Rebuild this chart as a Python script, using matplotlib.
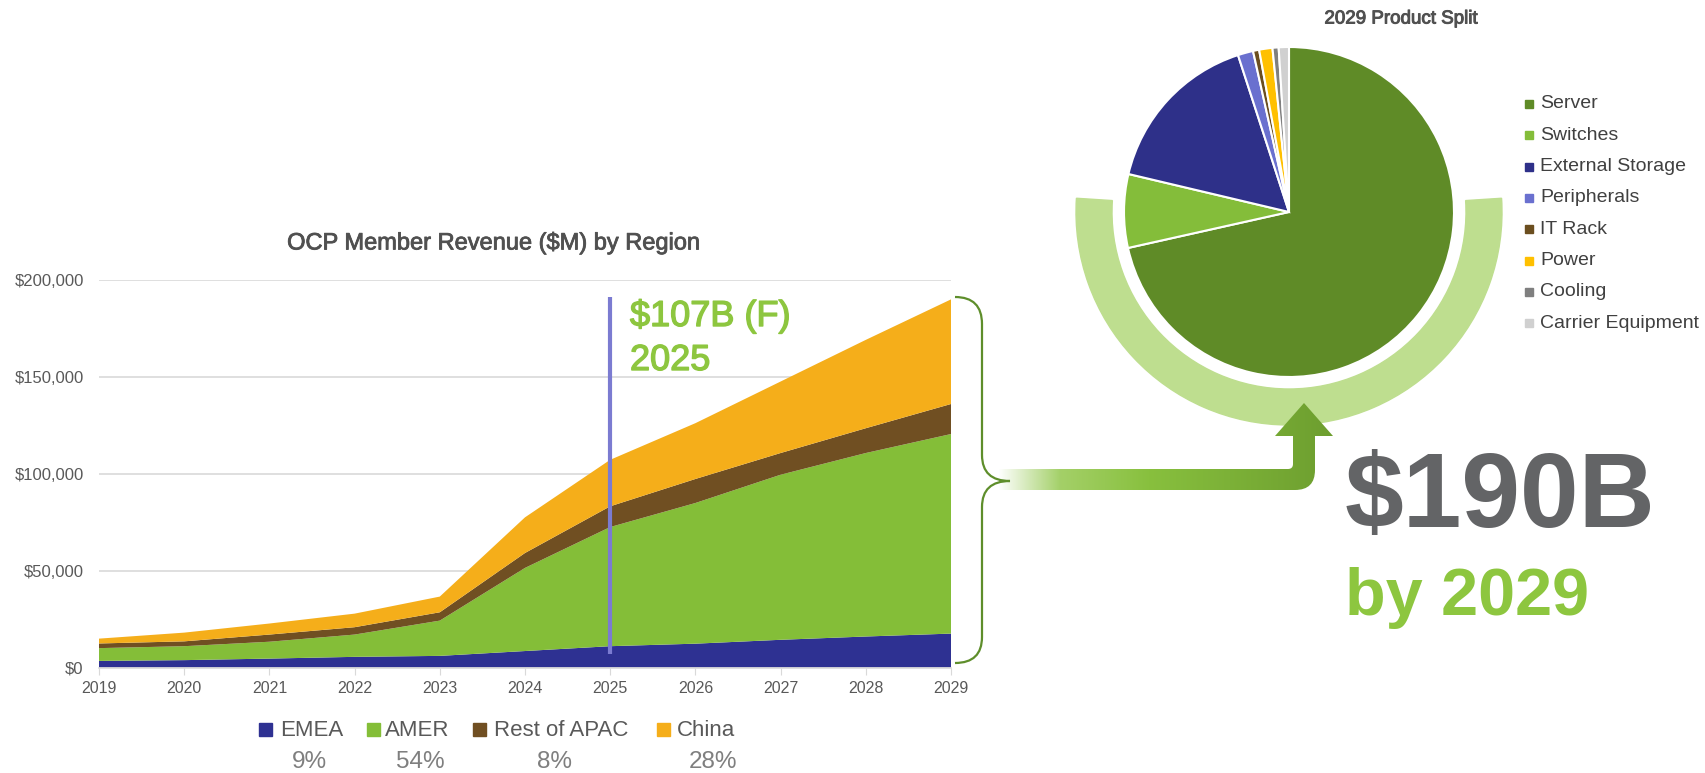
import numpy as np
import matplotlib
matplotlib.use("Agg")
import matplotlib.pyplot as plt
import matplotlib.patheffects as pe
from matplotlib.path import Path
from matplotlib.patches import PathPatch, Wedge, Rectangle
from matplotlib.colors import LinearSegmentedColormap
from matplotlib.ticker import FuncFormatter

plt.rcParams["font.family"] = ["Liberation Sans", "DejaVu Sans"]

W, H = 1706, 773

# area chart data ($M)
years = list(range(2019, 2030))
emea = [3400, 3800, 4600, 5500, 6000, 8500, 11000, 12300, 14300, 16000, 17500]
amer = [6600, 7200, 8700, 11500, 18200, 42900, 61500, 72600, 85200, 94700, 103000]
apac = [2400, 2500, 3700, 3800, 4300, 7700, 10700, 12400, 11200, 12800, 15500]
china = [2500, 4500, 5700, 7000, 8100, 18400, 24000, 28800, 36900, 45600, 54000]
regions = ["EMEA", "AMER", "Rest of APAC", "China"]
region_share = ["9%", "54%", "8%", "28%"]
region_colors = ["#2E3192", "#84BE38", "#704F22", "#F5AE1A"]

# pie data (% of 2029)
products = ["Server", "Switches", "External Storage", "Peripherals",
            "IT Rack", "Power", "Cooling", "Carrier Equipment"]
product_share = [71.5, 7.2, 16.3, 1.5, 0.6, 1.3, 0.6, 1.0]
product_colors = ["#5F8B27", "#84BD3A", "#2E3089", "#6A70CF",
                  "#6B4E1F", "#FFC000", "#7F7F7F", "#D0D0D0"]

fig = plt.figure(figsize=(W / 100, H / 100), dpi=100)


def px_box(left, top, right, bottom):
    # pixel box (y down) -> figure fraction rect
    return [left / W, (H - bottom) / H, (right - left) / W, (bottom - top) / H]


# ---- stacked area chart ----
ax = fig.add_axes(px_box(99, 280, 951, 667.5))
ax.stackplot(years, emea, amer, apac, china, colors=region_colors, lw=0)
ax.set_xlim(2019, 2029)
ax.set_ylim(0, 200000)
ax.set_xticks(years)
ax.set_yticks([0, 50000, 100000, 150000, 200000])
ax.yaxis.set_major_formatter(FuncFormatter(lambda v, p: "${:,.0f}".format(v)))
ax.grid(axis="y", color="#D9D9D9", lw=1.2)
ax.set_axisbelow(True)
for s in ["top", "right", "left"]:
    ax.spines[s].set_visible(False)
ax.spines["bottom"].set_color("#D9D9D9")
ax.spines["bottom"].set_linewidth(1.2)
ax.tick_params(axis="y", length=0, pad=11, labelsize=12, labelcolor="#595959")
ax.tick_params(axis="x", length=5, color="#D9D9D9", pad=5, labelsize=11.5,
               labelcolor="#595959")
title = ax.set_title("OCP Member Revenue ($M) by Region", fontsize=17,
                     color="#505050", x=0.4636, pad=22)
title.set_path_effects([pe.withStroke(linewidth=0.6, foreground="#505050")])
ax.plot([2025, 2025], [7000, 191000], color="#7B7BD1", lw=3,
        solid_capstyle="butt", zorder=4)

# ---- pie chart ----
cx, cy, R = 1289, 212, 165
pax = fig.add_axes(px_box(cx - 225, cy - 225, cx + 225, cy + 225))
pax.add_patch(Wedge((0, 0), 213, 176.3, 363.7, width=36, color="#BEDE8F"))
pax.pie(product_share, colors=product_colors, startangle=90, counterclock=False,
        radius=R, wedgeprops=dict(edgecolor="white", linewidth=1.5))
pax.set_xlim(-225, 225)
pax.set_ylim(-225, 225)
pax.set_aspect("equal")
pax.axis("off")

# ---- overlay in pixel coordinates ----
ov = fig.add_axes([0, 0, 1, 1], zorder=5)
ov.set_xlim(0, W)
ov.set_ylim(H, 0)
ov.axis("off")

# brace
bv = [(955, 297), (982, 297), (982, 324), (982, 455), (982, 481), (1010, 481),
      (982, 481), (982, 507), (982, 637), (982, 663), (955, 663)]
bc = [Path.MOVETO, Path.CURVE3, Path.CURVE3, Path.LINETO, Path.CURVE3, Path.CURVE3,
      Path.CURVE3, Path.CURVE3, Path.LINETO, Path.CURVE3, Path.CURVE3]
ov.add_patch(PathPatch(Path(bv, bc), fill=False, edgecolor="#5E8E2B", lw=1.6))

# gradient arrow
av = [(998, 469), (1288, 469), (1293, 469), (1293, 464), (1293, 436),
      (1275, 436), (1304, 403), (1333, 436), (1315, 436), (1315, 470),
      (1315, 490), (1295, 490), (998, 490), (998, 469)]
ac = [Path.MOVETO, Path.LINETO, Path.CURVE3, Path.CURVE3, Path.LINETO,
      Path.LINETO, Path.LINETO, Path.LINETO, Path.LINETO, Path.LINETO,
      Path.CURVE3, Path.CURVE3, Path.LINETO, Path.CLOSEPOLY]
arrow_patch = PathPatch(Path(av, ac), facecolor="none", edgecolor="none")
ov.add_patch(arrow_patch)
cmap = LinearSegmentedColormap.from_list(
    "fade", [(0.0, (0.64, 0.82, 0.41, 0.0)), (0.185, "#A4D068"),
             (0.45, "#88C03E"), (1.0, "#6D9E2F")])
grad = np.linspace(0, 1, 256).reshape(1, -1)
im = ov.imshow(grad, cmap=cmap, extent=(998, 1333, 490, 403), aspect="auto",
               interpolation="bilinear")
im.set_clip_path(arrow_patch)
ov.set_xlim(0, W)
ov.set_ylim(H, 0)

# annotation texts
thick = [pe.withStroke(linewidth=1.0, foreground="#8DC63F")]
ov.text(630, 326, "$107B (F)", fontsize=26, color="#8DC63F", va="baseline",
        path_effects=thick)
ov.text(630, 370, "2025", fontsize=26, color="#8DC63F", va="baseline",
        path_effects=thick)
ov.text(1345, 527, "$190B", fontsize=76, fontweight="bold", color="#636466",
        va="baseline")
ov.text(1345, 615, "by 2029", fontsize=48, fontweight="bold", color="#8DC63F",
        va="baseline")
ov.text(1401, 19, "2029 Product Split", fontsize=13.5, color="#505050",
        ha="center", va="center",
        path_effects=[pe.withStroke(linewidth=0.7, foreground="#505050")])

# pie legend
for i, (name, col) in enumerate(zip(products, product_colors)):
    y = 104 + i * 31.3
    ov.add_patch(Rectangle((1525, y - 4), 8, 8, color=col))
    ov.text(1540, y, name, fontsize=14, color="#404040", va="center")

# region legend with shares
sq_x = [259, 367, 473, 657]
tx_x = [280, 385, 494, 677]
pc_x = [309, 420, 555, 713]
for name, col, share, sx, tx, pcx in zip(regions, region_colors, region_share,
                                         sq_x, tx_x, pc_x):
    ov.add_patch(Rectangle((sx, 723), 13, 13, color=col))
    ov.text(tx, 730, name, fontsize=16, color="#595959", va="center")
    ov.text(pcx, 762, share, fontsize=17.5, color="#7F7F7F", ha="center",
            va="center")

fig.savefig("out.png", dpi=100)
plt.close(fig)
